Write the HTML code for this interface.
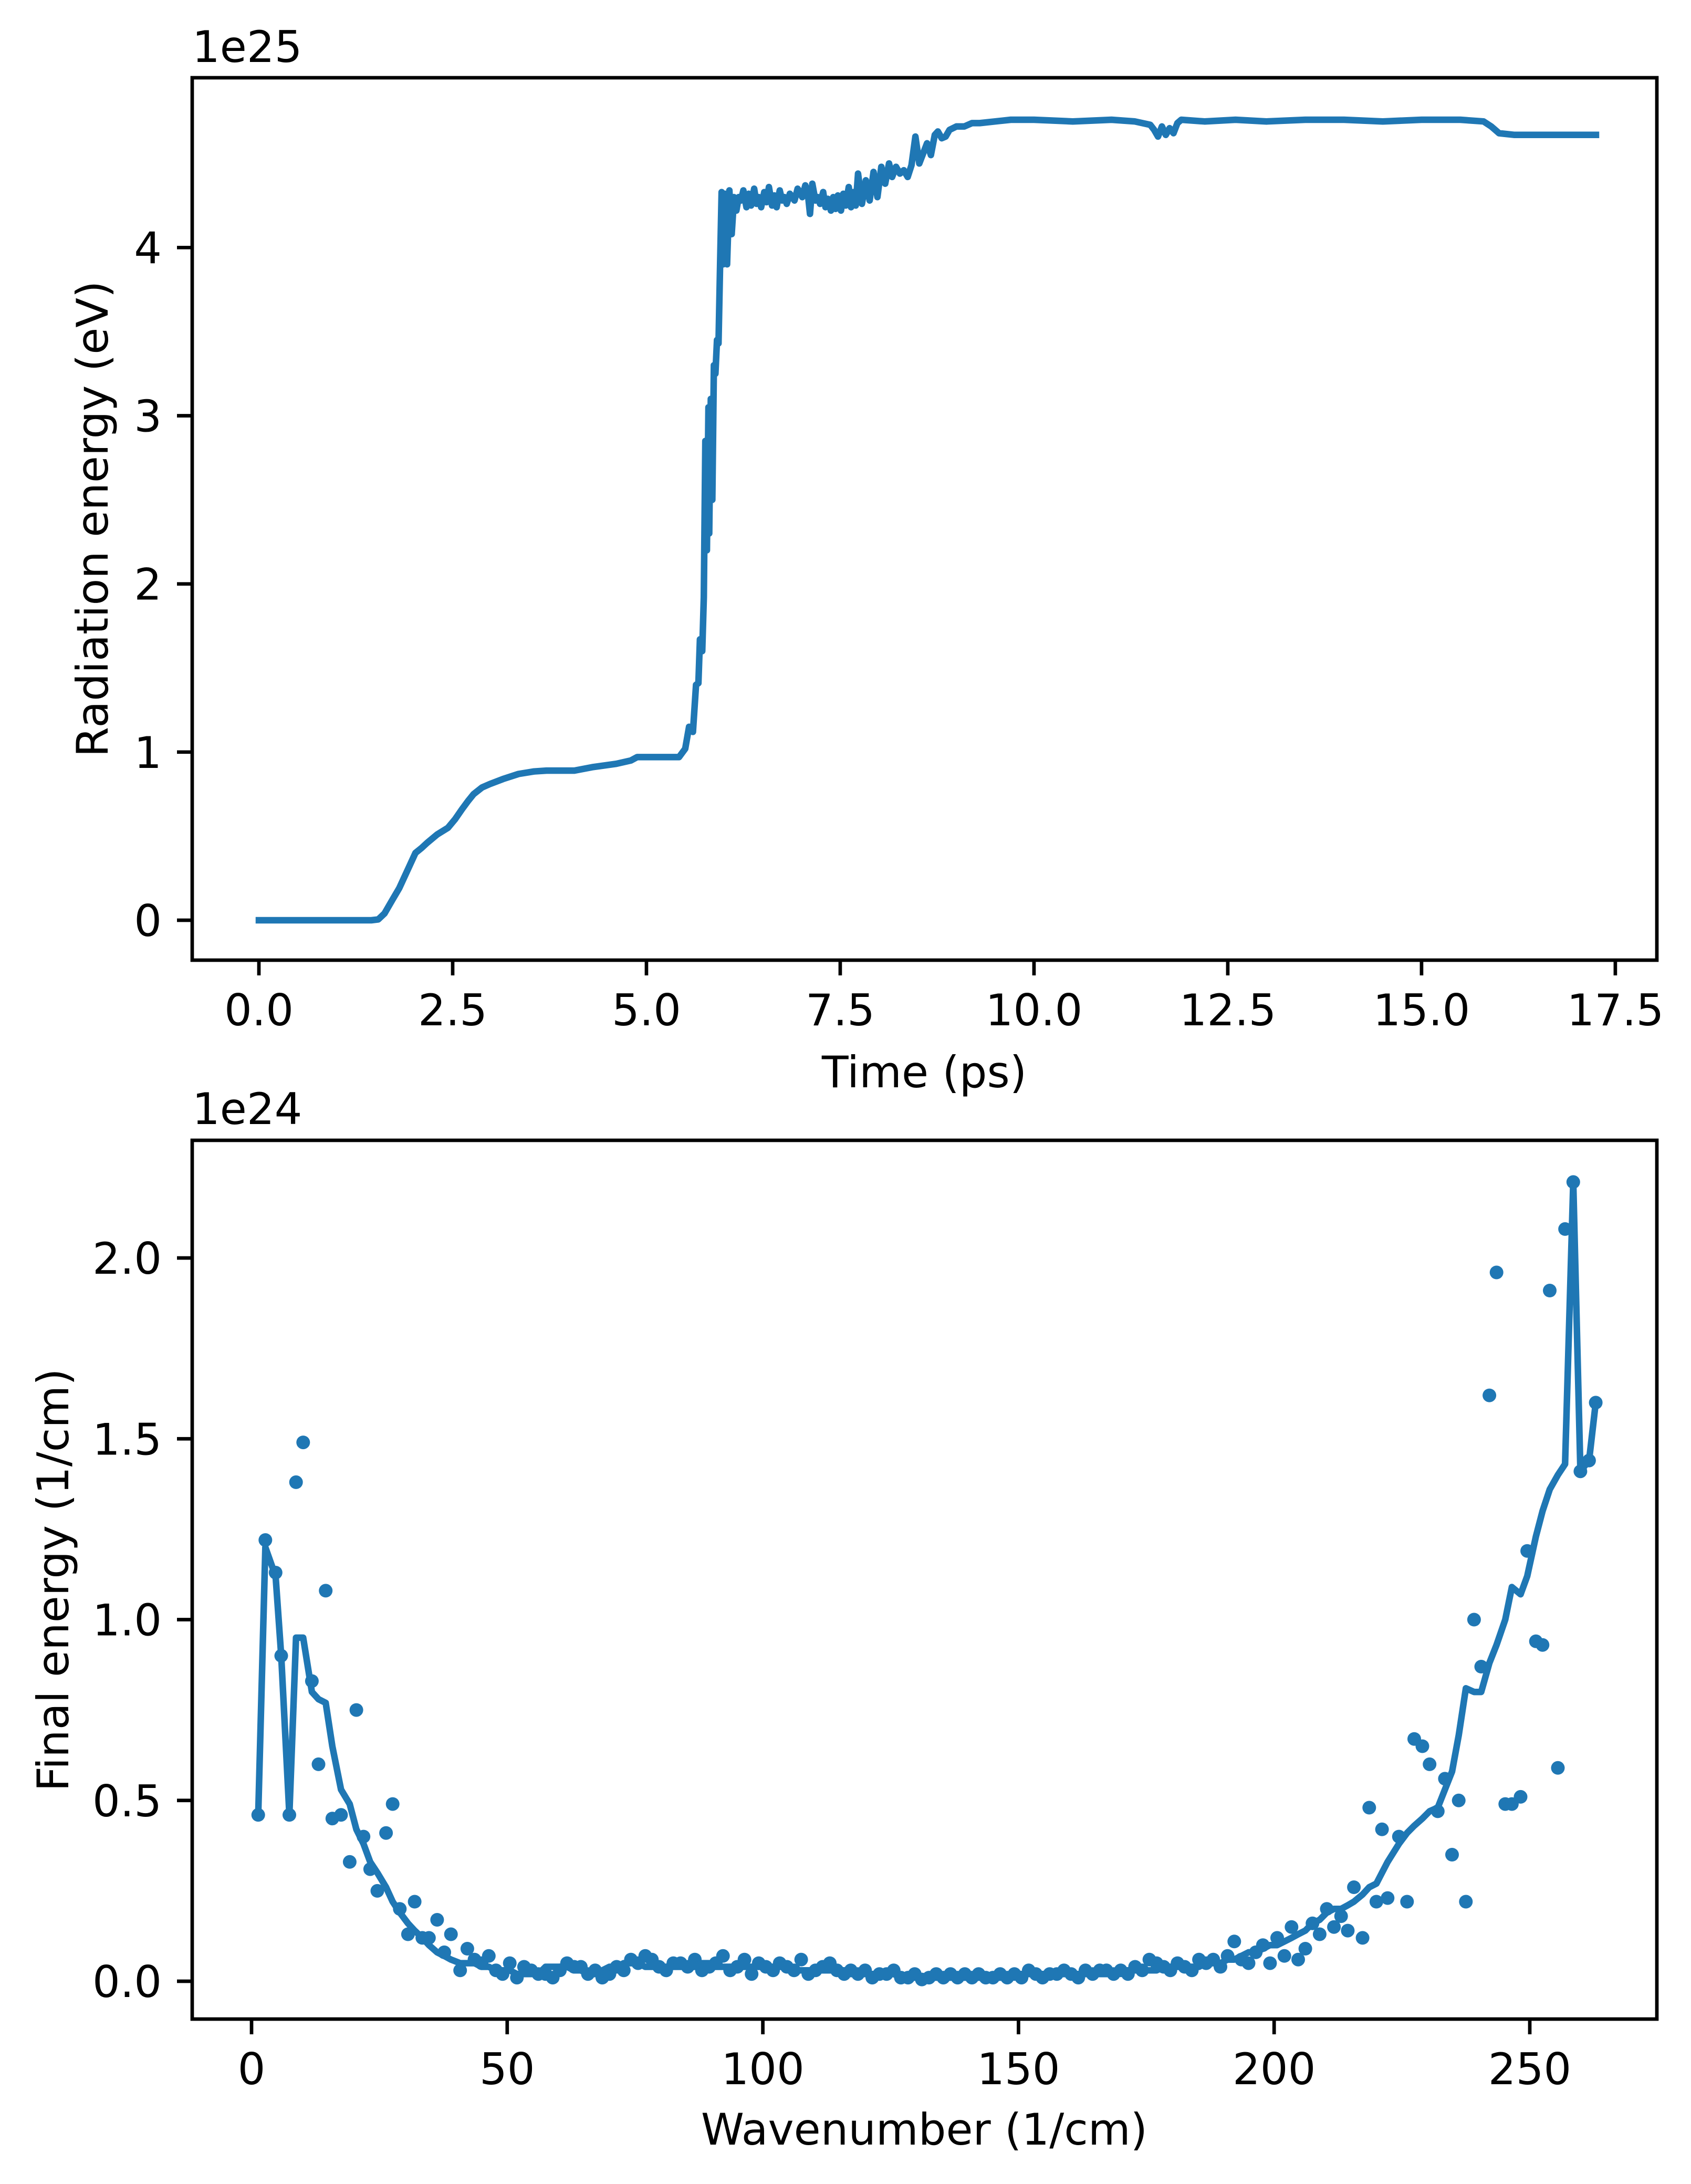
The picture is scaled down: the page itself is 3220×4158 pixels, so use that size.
<!DOCTYPE html>
<html><head><meta charset="utf-8"><style>
html,body{margin:0;padding:0;background:#fff;}
svg{display:block;}
text{font-family:"DejaVu Sans","Liberation Sans",sans-serif;fill:#000;}
</style></head><body>
<svg id="fig" width="3220" height="4158" viewBox="0 0 3220 4158" xmlns="http://www.w3.org/2000/svg">
<rect width="3220" height="4158" fill="#fff"/>
<g id="top"></g>
<g id="bot"></g>
</svg>
<script>
// ---------- Top chart data ----------
const timePs = [0,0.5,1.0,1.45,1.54,1.62,1.72,1.81,1.92,2.02,2.10,2.17,2.30,2.44,2.53,2.62,2.70,2.77,2.88,2.98,3.15,3.35,3.55,3.71,3.90,4.07,4.30,4.61,4.80,4.88,5.10,5.30,5.42,5.50,5.55,5.60,5.64,5.67,5.69,5.72,5.74,5.76,5.78,5.80,5.81,5.83,5.85,5.87,5.89,5.91,5.93,5.95,5.97,5.99,6.01,6.04,6.07,6.10,6.13,6.16,6.19,
6.22,6.25,6.29,6.32,6.35,6.39,6.42,6.45,6.48,6.52,6.55,6.58,6.62,6.65,6.68,6.72,6.75,6.78,6.81,6.85,6.88,6.91,6.95,6.98,7.01,7.05,7.08,7.11,7.14,7.18,7.21,7.24,7.28,7.31,7.34,7.38,7.41,7.44,7.47,7.51,7.54,7.57,7.61,7.64,7.67,7.70,
7.73,7.78,7.83,7.88,7.93,7.98,8.03,8.08,8.13,8.17,8.22,8.27,8.32,8.37,8.42,8.47,8.52,8.57,8.62,8.67,8.72,8.76,8.81,8.86,8.91,
9.0,9.1,9.2,9.3,9.5,9.7,10.0,10.5,11.0,11.3,11.5,11.55,11.6,11.65,11.7,11.75,11.8,11.85,11.9,12.2,12.6,13.0,13.5,14.0,14.5,15.0,15.5,15.8,15.9,16.0,16.2,17.25];
const radEnergy = [0,0,0,0,0.005,0.04,0.12,0.19,0.30,0.40,0.43,0.46,0.51,0.55,0.60,0.66,0.71,0.75,0.79,0.81,0.84,0.87,0.885,0.89,0.89,0.89,0.91,0.93,0.95,0.97,0.97,0.97,0.97,1.02,1.15,1.12,1.40,1.41,1.67,1.60,1.92,2.85,2.20,3.05,2.30,3.10,2.50,3.30,3.25,3.45,3.43,3.90,4.33,3.90,4.32,3.90,4.34,4.08,4.30,4.22,4.30,
4.28,4.34,4.24,4.32,4.25,4.35,4.26,4.30,4.24,4.33,4.27,4.36,4.25,4.31,4.24,4.34,4.28,4.30,4.26,4.32,4.30,4.28,4.35,4.33,4.30,4.37,4.33,4.20,4.38,4.28,4.30,4.26,4.33,4.24,4.29,4.22,4.30,4.23,4.31,4.22,4.32,4.25,4.36,4.24,4.33,4.25,
4.44,4.26,4.40,4.28,4.45,4.30,4.48,4.38,4.50,4.42,4.48,4.44,4.46,4.42,4.49,4.66,4.50,4.56,4.62,4.55,4.67,4.69,4.65,4.66,4.70,
4.72,4.72,4.74,4.74,4.75,4.76,4.76,4.75,4.76,4.75,4.73,4.70,4.66,4.72,4.67,4.71,4.68,4.74,4.76,4.75,4.76,4.75,4.76,4.76,4.75,4.76,4.76,4.75,4.72,4.68,4.67,4.67];
const topXTicks = [0,2.5,5,7.5,10,12.5,15,17.5];
const topXTickLabels = ["0.0","2.5","5.0","7.5","10.0","12.5","15.0","17.5"];
const topYTicks = [0,1,2,3,4];
const topYTickLabels = ["0","1","2","3","4"];

// ---------- Bottom chart data ----------
const waveX = [1.3,2.7,4.7,5.8,7.4,8.7,10.1,11.8,13.1,14.5,15.8,17.5,19.2,20.5,21.9,23.2,24.6,26.3,27.6,29.0,30.6,31.9,33.4,34.7,36.3,37.7,39.0,40.8,
42.2,43.6,45.0,46.4,47.8,49.1,50.5,51.9,53.3,54.7,56.1,57.5,58.9,60.3,61.7,63.1,64.4,65.8,67.2,68.6,70.0,71.4,72.8,74.2,75.6,77.0,78.3,79.7,81.1,82.5,83.9,85.3,86.7,88.1,89.5,90.8,92.2,93.6,95.0,96.4,97.8,99.2,100.6,102.0,103.3,104.7,106.1,107.5,108.9,110.3,111.7,113.1,114.5,115.9,117.2,118.6,120.0,121.4,122.8,124.2,125.6,127.0,128.4,129.7,131.1,132.5,133.9,135.3,136.7,138.1,139.5,140.9,142.2,143.6,145.0,146.4,147.8,149.2,150.6,152.0,153.4,154.7,156.1,157.5,158.9,160.3,161.7,163.1,164.5,165.9,167.2,168.6,170.0,171.4,172.8,174.2,175.6,177.0,178.4,179.7,181.1,182.5,183.9,185.3,186.7,188.1,189.5,190.9,192.2,193.6,195.0,196.4,197.8,199.2,200.6,202.0,203.4,204.7,206.1,207.5,208.9,210.3,211.7,213.1,214.4,
215.6,217.3,218.6,220.0,221.1,222.2,224.4,226.0,227.4,229.0,230.4,232.0,233.4,234.8,236.1,237.5,239.1,240.5,242.1,243.5,245.2,246.5,248.2,249.5,251.2,252.5,253.9,255.5,256.9,258.5,259.9,261.6,262.9];
const scatterE = [.46,1.22,1.13,.90,.46,1.38,1.49,.83,.60,1.08,.45,.46,.33,.75,.40,.31,.25,.41,.49,.20,.13,.22,.12,.12,.17,.08,.13,.03,
.09,.06,.05,.07,.03,.02,.05,.01,.04,.03,.02,.02,
.01,.03,.05,.04,.04,.02,.03,.01,.02,.04,.03,.06,.05,.07,.06,.04,.03,.05,.05,.04,
.06,.03,.04,.05,.07,.03,.04,.06,.02,.05,.04,.03,.05,.04,.03,.06,.02,.03,.04,.05,
.03,.02,.03,.02,.03,.01,.02,.02,.03,.01,.01,.02,.005,.01,.02,.01,.02,.01,.02,.01,
.02,.01,.01,.02,.01,.02,.01,.03,.02,.01,.02,.02,.03,.02,.01,.03,.02,.03,.03,.02,
.03,.02,.04,.03,.06,.05,.04,.03,.05,.04,.03,.06,.05,.06,.04,.07,
.11,.06,.05,.08,.10,.05,.12,.07,.15,.06,.09,.16,.13,.20,.15,.18,.14,
.26,.12,.48,.22,.42,.23,.40,.22,.67,.65,.60,.47,.56,.35,.50,.22,1.00,.87,1.62,1.96,.49,.49,.51,1.19,.94,.93,1.91,.59,2.08,2.21,1.41,1.44,1.60];
const lineE = [.46,1.20,1.12,.90,.46,.95,.95,.80,.78,.77,.65,.53,.49,.42,.38,.33,.30,.26,.22,.19,.16,.14,.12,.10,.08,.07,.06,.05,
.05,.05,.04,.04,.03,.03,.03,.02,.02,.02,
.02,.04,.04,.04,.04,.03,.03,.02,.02,.03,
.04,.04,.05,.05,.05,.04,.04,.04,.04,.04,
.04,.04,.04,.05,.05,.04,.04,.04,.04,.04,
.04,.04,.04,.04,.04,.04,.03,.03,.03,.03,
.03,.03,.03,.03,.02,.02,.02,.02,.02,.02,
.02,.01,.01,.01,.01,.01,.01,.01,.01,.01,
.01,.01,.01,.01,.01,.01,.01,.02,.02,.02,
.02,.02,.02,.02,.02,.02,.02,.02,.02,.02,
.02,.02,.03,.03,.03,.03,.03,.03,.04,.04,
.04,.04,.04,.04,.05,.05,.05,.06,.06,.07,
.08,.08,.09,.10,.10,.11,.12,.13,.14,.16,
.17,.19,.20,.20,.21,
.22,.24,.26,.27,.30,.33,.38,.41,.43,.45,.47,.48,.53,.58,.68,.81,.80,.80,.88,.93,1.00,1.09,1.07,1.12,1.23,1.30,1.36,1.40,1.43,2.21,1.41,1.44,1.60];
const botXTicks = [0,50,100,150,200,250];
const botXTickLabels = ["0","50","100","150","200","250"];
const botYTicks = [0,0.5,1.0,1.5,2.0];
const botYTickLabels = ["0.0","0.5","1.0","1.5","2.0"];

const NS = "http://www.w3.org/2000/svg";
const BLUE = "#1f77b4";
function mk(parent, tag, attrs, txt) {
  const e = document.createElementNS(NS, tag);
  for (const k in attrs) e.setAttribute(k, attrs[k]);
  if (txt !== undefined) e.textContent = txt;
  parent.appendChild(e);
  return e;
}
function linScale(d0, d1, r0, r1) { return v => r0 + (v - d0) / (d1 - d0) * (r1 - r0); }

function drawAxes(g, box, xs, ys, xT, xTL, yT, yTL, prefix) {
  for (let i = 0; i < xT.length; i++) {
    const x = xs(xT[i]);
    const t = mk(g, "line", {x1: x, x2: x, y1: box.b, y2: box.b + 29, stroke: "#000", "stroke-width": 6.7});
    
    
    const l = mk(g, "text", {x: x, y: box.b + 124, "font-size": 83, "text-anchor": "middle"}, xTL[i]);
    
    
  }
  for (let i = 0; i < yT.length; i++) {
    const y = ys(yT[i]);
    const t = mk(g, "line", {x1: box.l - 29, x2: box.l, y1: y, y2: y, stroke: "#000", "stroke-width": 6.7});
    
    
    const l = mk(g, "text", {x: box.l - 58, y: y + 30, "font-size": 83, "text-anchor": "end"}, yTL[i]);
    
    
  }
}
function drawFrame(g, box, prefix) {
  const f = mk(g, "rect", {x: box.l, y: box.t, width: box.r - box.l, height: box.b - box.t, fill: "none", stroke: "#000", "stroke-width": 6.7, "stroke-linejoin": "miter"});
  
  
}

// ---------- Top ----------
(function(){
  const g = document.getElementById("top");
  const box = {l: 366, r: 3155, t: 148, b: 1828};
  const xs = linScale(0, 17.25, 493, 3039);
  const ys = linScale(0, 4.76, 1752, 228);
  drawAxes(g, box, xs, ys, topXTicks, topXTickLabels, topYTicks, topYTickLabels, "top");
  let d = "";
  for (let i = 0; i < timePs.length; i++) d += (i ? "L" : "M") + xs(timePs[i]).toFixed(1) + " " + ys(radEnergy[i]).toFixed(1);
  const p = mk(g, "path", {d: d, fill: "none", stroke: BLUE, "stroke-width": 12.5, "stroke-linejoin": "round", "stroke-linecap": "square"});
  
  
  drawFrame(g, box, "top");
  const o = mk(g, "text", {x: 366, y: 118, "font-size": 83}, "1e25");
  
  
  const xl = mk(g, "text", {x: 1760, y: 2070, "font-size": 83, "text-anchor": "middle"}, "Time (ps)");
  
  
  const yl = mk(g, "text", {x: 0, y: 0, "font-size": 83, "text-anchor": "middle", transform: "translate(205,988) rotate(-90)"}, "Radiation energy (eV)");
  
  
})();

// ---------- Bottom ----------
(function(){
  const g = document.getElementById("bot");
  const box = {l: 366, r: 3155, t: 2171, b: 3844};
  const xs = linScale(0, 250, 479, 2913);
  const ys = linScale(0, 2.0, 3772, 2395);
  drawAxes(g, box, xs, ys, botXTicks, botXTickLabels, botYTicks, botYTickLabels, "bottom");
  for (let i = 0; i < waveX.length; i++) {
    const c = mk(g, "circle", {cx: xs(waveX[i]).toFixed(1), cy: ys(scatterE[i]).toFixed(1), r: 13, fill: BLUE});
    
    
  }
  let d = "";
  for (let i = 0; i < waveX.length; i++) d += (i ? "L" : "M") + xs(waveX[i]).toFixed(1) + " " + ys(lineE[i]).toFixed(1);
  const p = mk(g, "path", {d: d, fill: "none", stroke: BLUE, "stroke-width": 12.5, "stroke-linejoin": "round", "stroke-linecap": "square"});
  
  
  drawFrame(g, box, "bottom");
  const o = mk(g, "text", {x: 366, y: 2140, "font-size": 83}, "1e24");
  
  
  const xl = mk(g, "text", {x: 1760, y: 4083, "font-size": 83, "text-anchor": "middle"}, "Wavenumber (1/cm)");
  
  
  const yl = mk(g, "text", {x: 0, y: 0, "font-size": 83, "text-anchor": "middle", transform: "translate(130,3008) rotate(-90)"}, "Final energy (1/cm)");
  
  
})();
</script>
</body></html>
